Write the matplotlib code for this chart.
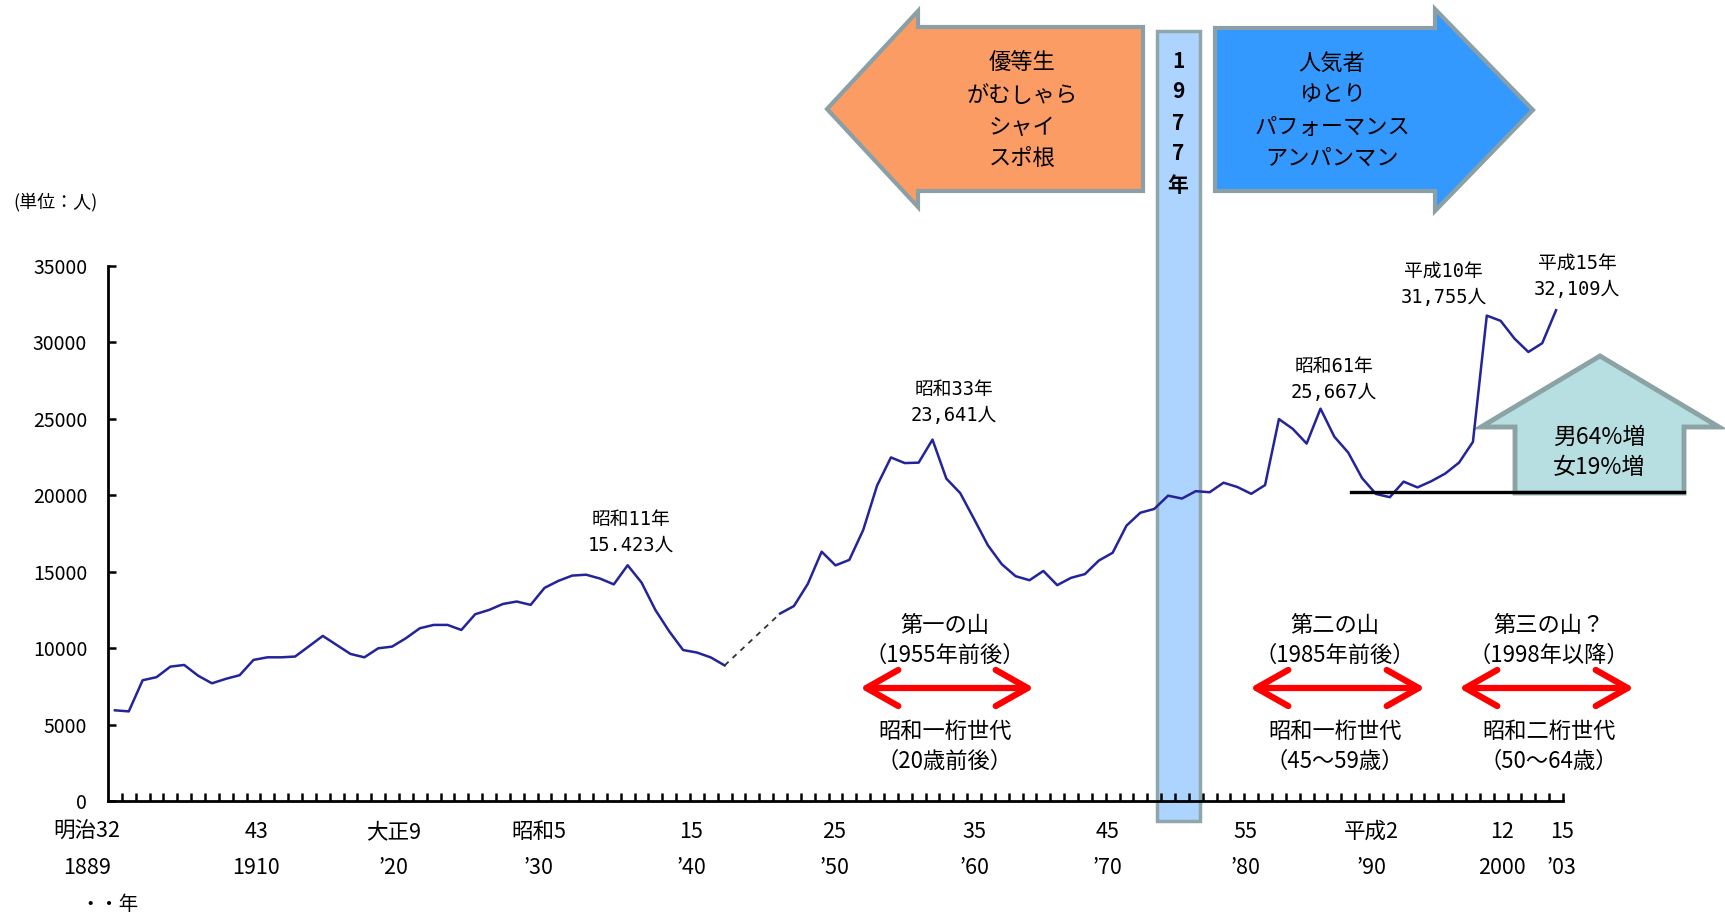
import numpy as np
import matplotlib
matplotlib.use("Agg")
import matplotlib.pyplot as plt
from matplotlib.patches import Polygon, Rectangle, FancyArrowPatch
from matplotlib.transforms import blended_transform_factory

plt.rcParams["font.family"] = ["Noto Sans CJK JP", "DejaVu Sans"]

# 自殺者数の年次推移（人口動態統計）
years = list(range(1899, 2004))
suicides = [
    5932, 5863, 7900, 8100, 8790, 8900, 8200, 7700, 7990, 8230,      # 1899-1908
    9230, 9400, 9400, 9450, 10120, 10800, 10210, 9620, 9400, 9990,   # 1909-1918
    10100, 10650, 11300, 11520, 11520, 11190, 12220, 12500, 12890, 13050,  # 1919-1928
    12830, 13942, 14400, 14746, 14805, 14554, 14172, 15423, 14295, 12500,  # 1929-1938
    11100, 9877, 9713, 9393, 8871, None, None, None, 12262, 12753,   # 1939-1948
    14201, 16311, 15415, 15776, 17731, 20635, 22477, 22107, 22136, 23641,  # 1949-1958
    21090, 20143, 18446, 16724, 15490, 14707, 14444, 15050, 14121, 14601,  # 1959-1968
    14844, 15728, 16239, 18015, 18859, 19105, 19975, 19786, 20269, 20199,  # 1969-1978
    20823, 20542, 20096, 20668, 24985, 24344, 23383, 25667, 23831, 22795,  # 1979-1988
    21125, 20088, 19875, 20893, 20516, 20923, 21420, 22138, 23494, 31755,  # 1989-1998
    31413, 30251, 29375, 29949, 32109,                                 # 1999-2003
]

yticks = list(range(0, 35001, 5000))

label_years = [1899, 1910, 1920, 1930, 1940, 1950, 1960, 1970, 1980, 1990, 2000, 2003]
era_labels = ["明治32", "43", "大正9", "昭和5", "15", "25", "35", "45", "55", "平成2", "12", "15"]
year_labels = ["1889", "1910", "’20", "’30", "’40", "’50", "’60", "’70", "’80", "’90", "2000", "’03"]
label_nudge = [-2.0, -0.8, -0.9, -0.4, 0.6, 0.9, 1.0, 0.6, 0.6, -0.3, -0.9, 0.4]

peak_years = [1936, 1958, 1986, 1998, 2003]
peak_eras = ["昭和11年", "昭和33年", "昭和61年", "平成10年", "平成15年"]
peak_seps = [".", ",", ",", ",", ","]
peak_offsets = [(3, 46), (21, 50), (13, 42), (-43, 44), (21, 47)]

W, H = 1725, 916
fig = plt.figure(figsize=(W / 100, H / 100), dpi=100, facecolor="white")
ax = fig.add_axes([108 / W, 1 - 801 / H, (1563 - 108) / W, (801 - 266) / H])

# 注記用の背面レイヤー（ピクセル座標）
deco = fig.add_axes([0, 0, 1, 1], zorder=-1)
deco.set_xlim(0, W)
deco.set_ylim(H, 0)
deco.axis("off")

vals = np.array([np.nan if v is None else v for v in suicides], dtype=float)
yrs = np.array(years)

# 1977年の境目
band_tr = blended_transform_factory(ax.transData, ax.transAxes)
ax.add_patch(Rectangle((1974.2, -0.037), 3.1, 1.477, transform=band_tr,
                       facecolor="#ADD3FF", edgecolor="#8FA6AA", lw=2.5,
                       clip_on=False, zorder=1))
for ty, t in zip([61, 92, 123, 154, 186], ["1", "9", "7", "7", "年"]):
    ax.text(1178, ty, t, transform=deco.transData, ha="center", va="center",
            fontsize=15, fontweight="bold", clip_on=False, zorder=4)

ax.plot(yrs, vals, color="#23239B", lw=1.8, zorder=3)

# 欠測期間は点線でつなぐ
gap = np.where(np.isnan(vals))[0]
if len(gap):
    i0, i1 = gap[0] - 1, gap[-1] + 1
    ax.plot([yrs[i0], yrs[i1]], [vals[i0], vals[i1]], color="#333333",
            lw=1.3, ls=(0, (3, 3)), zorder=3)

ax.set_xlim(1898.5, 2003.5)
ax.set_ylim(0, 35000)
for s in ("top", "right"):
    ax.spines[s].set_visible(False)
for s in ("left", "bottom"):
    ax.spines[s].set_linewidth(2)
ax.set_yticks(yticks)
ax.set_yticklabels([str(v) for v in yticks], fontsize=14)
ax.set_xticks(np.arange(1899.5, 2004, 1))
ax.set_xticklabels([])
ax.tick_params(axis="x", direction="in", length=5.5, width=1.8)
ax.tick_params(axis="y", direction="in", length=6, width=1.8, pad=15)
ax.patch.set_alpha(0)

lab_tr = blended_transform_factory(ax.transData, ax.transAxes)
for yr, nd, era, ylab in zip(label_years, label_nudge, era_labels, year_labels):
    ax.text(yr + nd, (801 - 832) / 535, era, transform=lab_tr, ha="center",
            va="center", fontsize=15.5)
    ax.text(yr + nd, (801 - 868) / 535, ylab, transform=lab_tr, ha="center",
            va="center", fontsize=15.5)

# ピーク値のラベル
lab_font = ["DejaVu Sans Mono", "Noto Sans CJK JP"]
for yr, era, sep, (dx, dy) in zip(peak_years, peak_eras, peak_seps, peak_offsets):
    v = vals[years.index(yr)]
    num = f"{int(v):,}".replace(",", sep) + "人"
    ax.annotate(era, xy=(yr, v), xytext=(dx, dy), textcoords="offset pixels",
                ha="center", va="center", fontsize=13.5, family=lab_font)
    ax.annotate(num, xy=(yr, v), xytext=(dx, dy - 26), textcoords="offset pixels",
                ha="center", va="center", fontsize=13.5, family=lab_font)

# 20,000人の基準線
ax.plot([1988.2, 2012.2], [20220, 20220], color="black", lw=2.4,
        clip_on=False, zorder=6)

deco.text(13, 202, "(単位：人)", ha="left", va="center", fontsize=13)
deco.text(109, 905, "・・年", ha="center", va="center", fontsize=14)

left_arrow = [(827, 109), (918, 11), (918, 27), (1143, 27), (1143, 191),
              (918, 191), (918, 207)]
right_arrow = [(1215, 28), (1435, 28), (1435, 9), (1533, 110), (1435, 211),
               (1435, 191), (1215, 191)]
up_arrow = [(1600, 356), (1719, 427), (1684, 427), (1684, 493), (1515, 493),
            (1515, 427), (1481, 427)]
deco.add_patch(Polygon(left_arrow, closed=True, facecolor="#FA9C64",
                       edgecolor="#8BA0A6", lw=3, joinstyle="miter"))
deco.add_patch(Polygon(right_arrow, closed=True, facecolor="#3399FF",
                       edgecolor="#8BA0A6", lw=3, joinstyle="miter"))
deco.add_patch(Polygon(up_arrow, closed=True, facecolor="#B7DEE0",
                       edgecolor="#8BA3A5", lw=3.5, joinstyle="miter"))

line_y = [63, 95, 127, 158]
for ty, t in zip(line_y, ["優等生", "がむしゃら", "シャイ", "スポ根"]):
    deco.text(1022, ty, t, ha="center", va="center", fontsize=16)
for ty, t in zip(line_y, ["人気者", "ゆとり", "パフォーマンス", "アンパンマン"]):
    deco.text(1332, ty, t, ha="center", va="center", fontsize=16)
deco.text(1599, 437, "男64%増", ha="center", va="center", fontsize=16.5)
deco.text(1599, 468, "女19%増", ha="center", va="center", fontsize=16.5)

groups = [
    (945, 858, 1036, ["第一の山", "（1955年前後）", "昭和一桁世代", "（20歳前後）"]),
    (1335, 1248, 1427, ["第二の山", "（1985年前後）", "昭和一桁世代", "（45～59歳）"]),
    (1549, 1457, 1636, ["第三の山？", "（1998年以降）", "昭和二桁世代", "（50～64歳）"]),
]
for cx, x0, x1, texts in groups:
    deco.add_patch(FancyArrowPatch((x0 + 2, 688), (x1 - 2, 688),
                                   arrowstyle="<->,head_length=1.15,head_width=0.65",
                                   mutation_scale=20, color="#FF0000", lw=4.5,
                                   shrinkA=0, shrinkB=0,
                                   capstyle="round", joinstyle="round"))
    for ty, t in zip([625, 655, 731, 761], texts):
        deco.text(cx, ty, t, ha="center", va="center", fontsize=16)

fig.savefig("out.png", dpi=100, facecolor="white")
